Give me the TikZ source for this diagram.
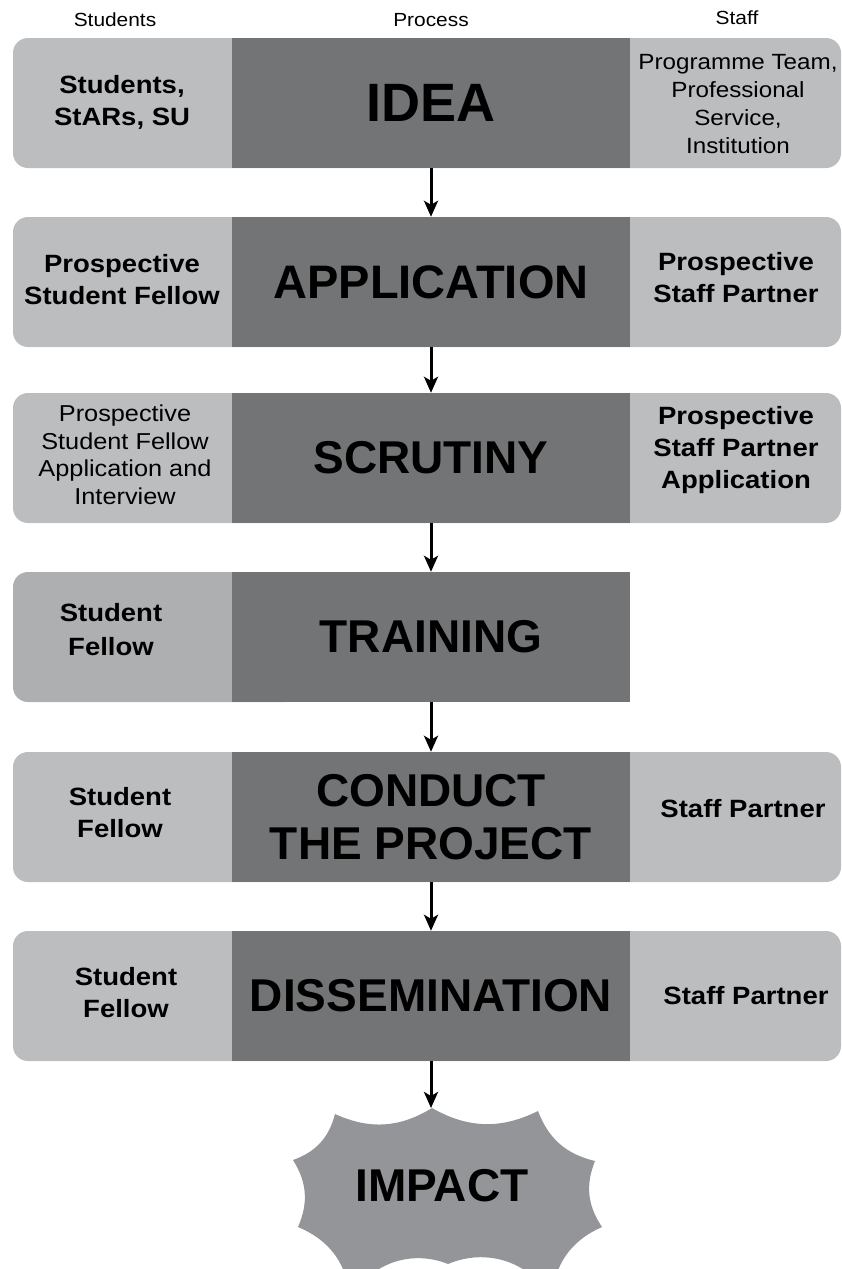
\documentclass[tikz,border=0pt]{standalone}
\usepackage{fontspec}
\setmainfont{Liberation Sans}
\newfontfamily\hfont[FakeStretch=1.1]{Liberation Sans}
\usetikzlibrary{arrows.meta}
\definecolor{lightpanel}{HTML}{BCBDBF}
\definecolor{lightpanelB}{HTML}{AEAFB1}
\definecolor{darkpanel}{HTML}{737476}
\definecolor{burstgray}{HTML}{939598}
\newcommand\sideBold{\hfont\bfseries\fontsize{25}{32}\selectfont}
\newcommand\sideReg{\hfont\fontsize{22}{28}\selectfont}
\newcommand\sideRegB{\hfont\fontsize{23}{27.5}\selectfont}
\newcommand\headFont{\hfont\fontsize{19}{22}\selectfont}
\newcommand\bigFont{\bfseries\fontsize{46}{55}\selectfont}
\tikzset{
  panel/.style={fill=lightpanel, rounded corners=15pt},
  midbox/.style={fill=darkpanel, minimum width=398pt, minimum height=130pt, inner sep=0pt, font=\bigFont, align=center, text=black},
  sideb/.style={align=center, inner sep=0pt, font=\sideBold},
  sider/.style={align=center, inner sep=0pt, font=\sideReg},
  head/.style={inner sep=0pt, font=\headFont},
  arr/.style={-{Stealth[length=16pt,width=14pt,inset=4pt]}, line width=3pt},
}
\begin{document}
\begin{tikzpicture}[x=1pt,y=-1pt]
\useasboundingbox (0,0) rectangle (842,1269);
% headers
\node[head] (hs) at (115,20) {Students};
\node[head] (hp) at (431,20) {Process};
\node[head] (hf) at (737,18) {Staff};
% light panels
\fill[panel] (13,38) rectangle (841,168);
\fill[panel] (13,217) rectangle (841,347);
\fill[panel] (13,393) rectangle (841,523);
\fill[lightpanelB, rounded corners=15pt] (300,572) -- (13,572) -- (13,702) -- (300,702) -- cycle;
\fill[panel] (13,752) rectangle (841,882);
\fill[panel] (13,931) rectangle (841,1061);
% process boxes
\node[midbox] (idea) at (431,103) {\fontsize{54}{60}\selectfont IDEA};
\node[midbox] (app) at (431,282) {\fontsize{47}{55}\selectfont APPLICATION};
\node[midbox] (scr) at (431,458) {SCRUTINY};
\node[midbox] (tra) at (431,637) {TRAINING};
\node[midbox] (con) at (431,817) {CONDUCT\\[-2pt]THE PROJECT};
\node[midbox] (dis) at (431,996) {DISSEMINATION};
% student side
\node[sideb] (s1) at (122,102) {Students,\\StARs, SU};
\node[sideb] (s2) at (122,280) {Prospective\\Student Fellow};
\node[sider, font=\sideRegB] (s3) at (125,455) {Prospective\\Student Fellow\\Application and\\Interview};
\node[sideb, font=\hfont\bfseries\fontsize{25}{34}\selectfont] (s4) at (111,630) {Student\\Fellow};
\node[sideb] (s5) at (120,813) {Student\\Fellow};
\node[sideb] (s6) at (126,993) {Student\\Fellow};
% staff side
\node[sider] (f1) at (738,104) {Programme Team,\\Professional\\Service,\\Institution};
\node[sideb] (f2) at (736,278) {Prospective\\Staff Partner};
\node[sideb] (f3) at (736,450) {Prospective\\Staff Partner\\Application};
\node[sideb] (f5) at (743,809) {Staff Partner};
\node[sideb] (f6) at (746,996) {Staff Partner};
% impact burst
\fill[burstgray] (432,1108) to[bend right=28] (538,1111) to[bend right=28] (595,1161)
  to[bend right=28] (602,1227) to[bend right=32] (552,1300) to[bend right=42] (448,1264)
  to[bend right=42] (350,1300) to[bend right=32] (298,1227) to[bend right=28] (293,1160)
  to[bend right=28] (335,1114) to[bend right=28] (432,1108) -- cycle;
\coordinate (imptop) at (432,1108);
\node[inner sep=0pt, font=\bigFont] (impact) at (442,1186) {IMPACT};
% arrows
\draw[arr] (idea.south) -- (app.north);
\draw[arr] (app.south) -- (scr.north);
\draw[arr] (scr.south) -- (tra.north);
\draw[arr] (tra.south) -- (con.north);
\draw[arr] (con.south) -- (dis.north);
\draw[arr] (dis.south) -- (dis.south |- imptop);
\end{tikzpicture}
\end{document}
